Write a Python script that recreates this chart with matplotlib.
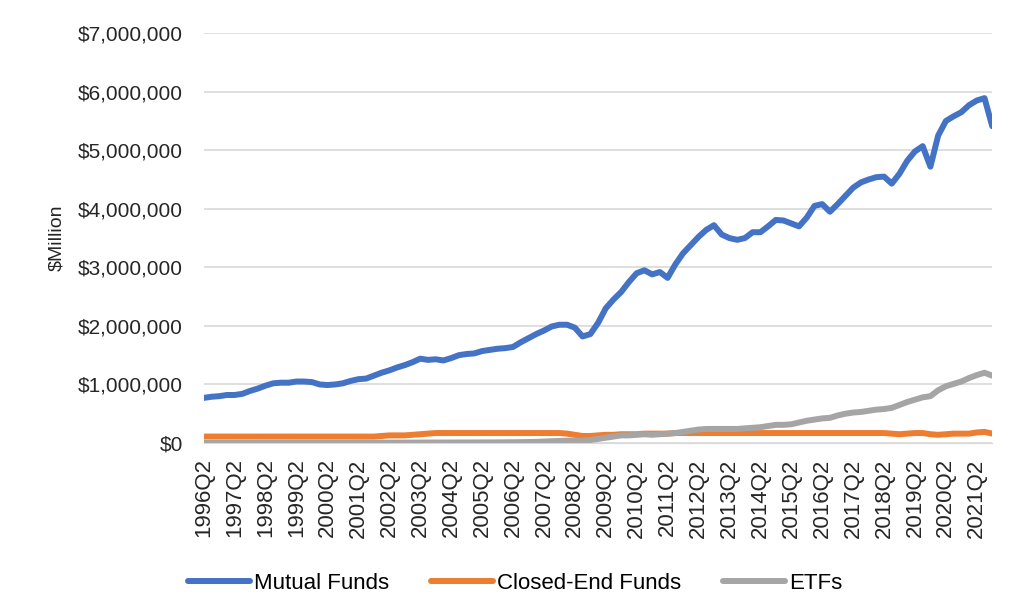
import matplotlib
matplotlib.use('Agg')
import matplotlib.pyplot as plt
from matplotlib.ticker import FuncFormatter

plt.rcParams['font.family'] = ['Liberation Sans', 'DejaVu Sans']

# quarters 1996Q2 .. 2021Q4
quarters = []
for yr in range(1996, 2022):
    for q in range(1, 5):
        if yr == 1996 and q == 1:
            continue
        quarters.append('%dQ%d' % (yr, q))

# values in $ trillion (x 1e6 = $Million)
mutual_funds = [
    0.77, 0.79, 0.80, 0.82, 0.82, 0.84, 0.89, 0.93, 0.98, 1.02,
    1.03, 1.03, 1.05, 1.05, 1.04, 1.00, 0.99, 1.00, 1.02, 1.06,
    1.09, 1.10, 1.15, 1.20, 1.24, 1.29, 1.33, 1.38, 1.44, 1.42,
    1.43, 1.41, 1.45, 1.50, 1.52, 1.53, 1.57, 1.59, 1.61, 1.62,
    1.64, 1.72, 1.79, 1.86, 1.92, 1.99, 2.02, 2.02, 1.97, 1.82,
    1.86, 2.05, 2.30, 2.45, 2.58, 2.75, 2.90, 2.95, 2.88, 2.92,
    2.82, 3.05, 3.24, 3.38, 3.52, 3.64, 3.72, 3.56, 3.50, 3.47,
    3.50, 3.60, 3.60, 3.70, 3.81, 3.80, 3.75, 3.70, 3.85, 4.05,
    4.08, 3.95, 4.08, 4.22, 4.36, 4.45, 4.50, 4.54, 4.55, 4.43,
    4.60, 4.82, 4.98, 5.07, 4.72, 5.25, 5.50, 5.58, 5.65, 5.77,
    5.85, 5.89, 5.41,
]
closed_end = [
    0.11, 0.11, 0.11, 0.11, 0.11, 0.11, 0.11, 0.11, 0.11, 0.11,
    0.11, 0.11, 0.11, 0.11, 0.11, 0.11, 0.11, 0.11, 0.11, 0.11,
    0.11, 0.11, 0.11, 0.12, 0.13, 0.13, 0.13, 0.14, 0.15, 0.16,
    0.17, 0.17, 0.17, 0.17, 0.17, 0.17, 0.17, 0.17, 0.17, 0.17,
    0.17, 0.17, 0.17, 0.17, 0.17, 0.17, 0.17, 0.16, 0.14, 0.12,
    0.12, 0.13, 0.14, 0.14, 0.15, 0.15, 0.15, 0.16, 0.16, 0.16,
    0.16, 0.17, 0.17, 0.17, 0.17, 0.17, 0.17, 0.17, 0.17, 0.17,
    0.17, 0.17, 0.17, 0.17, 0.17, 0.17, 0.17, 0.17, 0.17, 0.17,
    0.17, 0.17, 0.17, 0.17, 0.17, 0.17, 0.17, 0.17, 0.17, 0.16,
    0.15, 0.16, 0.17, 0.17, 0.15, 0.14, 0.15, 0.16, 0.16, 0.16,
    0.18, 0.19, 0.16,
]
etfs = [
    0.002, 0.002, 0.002, 0.002, 0.003, 0.003, 0.003, 0.003, 0.004, 0.004,
    0.004, 0.004, 0.005, 0.005, 0.005, 0.005, 0.005, 0.005, 0.005, 0.005,
    0.006, 0.006, 0.006, 0.006, 0.006, 0.007, 0.007, 0.007, 0.007, 0.008,
    0.008, 0.008, 0.008, 0.009, 0.009, 0.009, 0.010, 0.010, 0.011, 0.012,
    0.013, 0.015, 0.017, 0.020, 0.025, 0.030, 0.035, 0.040, 0.040, 0.040,
    0.050, 0.070, 0.090, 0.110, 0.130, 0.130, 0.140, 0.150, 0.140, 0.150,
    0.160, 0.170, 0.190, 0.210, 0.230, 0.240, 0.240, 0.240, 0.240, 0.240,
    0.250, 0.260, 0.270, 0.290, 0.310, 0.310, 0.320, 0.350, 0.380, 0.400,
    0.420, 0.430, 0.470, 0.500, 0.520, 0.530, 0.550, 0.570, 0.580, 0.600,
    0.650, 0.700, 0.740, 0.780, 0.800, 0.900, 0.970, 1.010, 1.050, 1.110,
    1.160, 1.200, 1.150,
]

series = [('Mutual Funds', mutual_funds, '#4472C4'),
          ('Closed-End Funds', closed_end, '#ED7D31'),
          ('ETFs', etfs, '#A5A5A5')]

fig = plt.figure(figsize=(10.24, 6.14), dpi=100)
ax = fig.add_axes([0.199, 0.2785, 0.77, 0.6675])

x = list(range(len(quarters)))
for name, vals, col in series:
    ax.plot(x, [v * 1e6 for v in vals], color=col, lw=4.3, label=name,
            solid_capstyle='round', solid_joinstyle='round')

ax.set_ylim(0, 7e6)
ax.set_yticks([i * 1e6 for i in range(8)])
ax.yaxis.set_major_formatter(FuncFormatter(lambda v, p: '${:,.0f}'.format(v)))
ax.set_xlim(0, len(quarters) - 1)
ax.set_xticks(x[::4])
ax.set_xticklabels(quarters[::4], rotation=90)
ax.tick_params(axis='y', length=0, labelsize=15, colors='#262626', pad=15)
ax.tick_params(axis='x', length=0, labelsize=16, colors='#262626', pad=11)
ax.grid(axis='y', color='#D9D9D9', lw=1.2)
ax.set_axisbelow(True)
for s in ['top', 'right', 'left']:
    ax.spines[s].set_visible(False)
ax.spines['bottom'].set_color('#D9D9D9')
ax.set_ylabel('$Million', fontsize=14, color='#262626', labelpad=9)

fig.legend(loc='lower center', bbox_to_anchor=(0.503, 0.0), ncol=3,
           frameon=False, fontsize=16, handlelength=2.8, handletextpad=0.15,
           columnspacing=1.9)

fig.savefig('out.png', dpi=100)
